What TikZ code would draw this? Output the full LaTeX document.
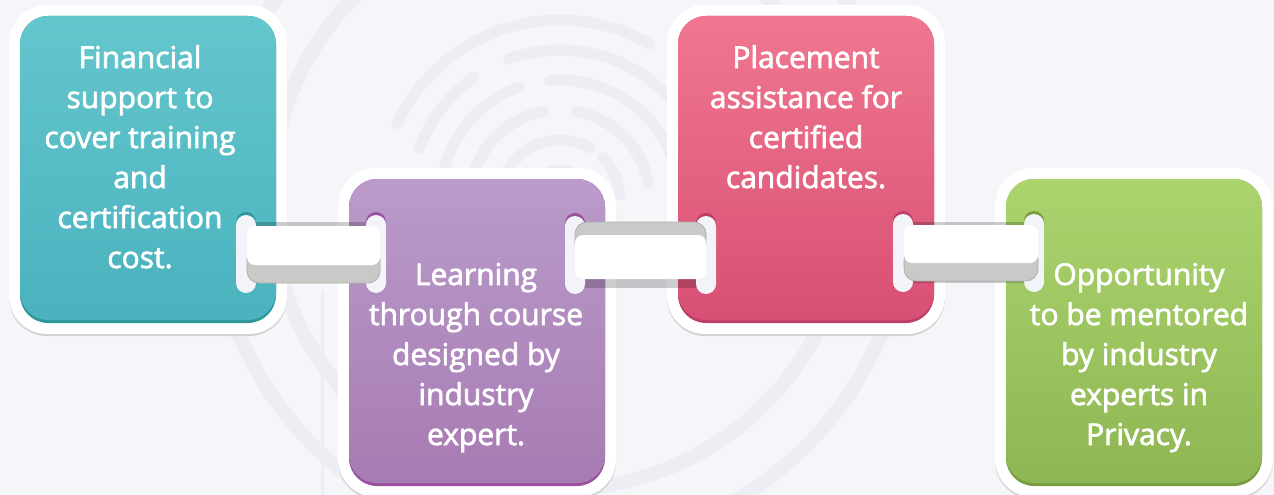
\documentclass[tikz,border=0pt]{standalone}
\usepackage{fontspec}
\newfontfamily\lblfont{Open Sans}[FakeBold=2.2]
\definecolor{bgc}{HTML}{F5F6FA}
\definecolor{wmc}{HTML}{ECEEF4}
\definecolor{shadowc}{HTML}{D2D2D2}
\definecolor{slotc}{HTML}{F3F4F9}
\definecolor{curlc}{HTML}{C9C9C7}
\definecolor{curledge}{HTML}{AFAFAD}
\definecolor{tealT}{HTML}{64C6CD}
\definecolor{tealB}{HTML}{4AB2BE}
\definecolor{tealL}{HTML}{2F9799}
\definecolor{purT}{HTML}{BA9BCA}
\definecolor{purB}{HTML}{A77BB3}
\definecolor{purL}{HTML}{9B509F}
\definecolor{pinkT}{HTML}{F0778F}
\definecolor{pinkB}{HTML}{D84F75}
\definecolor{pinkL}{HTML}{BD3F66}
\definecolor{grnT}{HTML}{ABD36E}
\definecolor{grnB}{HTML}{8EB753}
\definecolor{grnL}{HTML}{789C3F}
\tikzset{
  lbl/.style={text=white, font=\lblfont\fontsize{30}{40}\selectfont, align=center, anchor=base, inner sep=0pt},
  wm/.style={draw=wmc, line width=14pt, line cap=round},
  strip/.style={fill=black, fill opacity=0.2},
  slot/.style={fill=slotc, rounded corners=10pt},
  curl/.style={fill=curlc, draw=curledge, line width=0.8pt, rounded corners=12pt},
  ribbon/.style={fill=white, rounded corners=8pt},
}
\newcommand\drawcard[5]{%
  \fill[shadowc, rounded corners=38pt] (#1-11,#2-9) rectangle (#1+267,#2+320);
  \fill[white, rounded corners=38pt] (#1-11,#2-11) rectangle (#1+267,#2+318);
  \fill[#5, rounded corners=28pt] (#1,#2) rectangle (#1+256,#2+307);
  \shade[top color=#3, bottom color=#4, rounded corners=28pt] (#1,#2) rectangle (#1+256,#2+304);
}
\newcommand\drawslot[3]{% x, y top, dark colour
  \fill[#3, rounded corners=10pt] (#1,#2-3) rectangle (#1+20,#2+75);
  \fill[slot] (#1,#2) rectangle (#1+20,#2+78);
}
\begin{document}
\begin{tikzpicture}[x=1pt,y=-1pt]
\fill[bgc] (0,0) rectangle (1274,495);
\useasboundingbox (0,0) rectangle (1274,495);
% watermark
\draw[wm] (560,200) circle[radius=289];
\draw[wm] (560,200) circle[radius=348];
\draw[draw=wmc, line width=3pt] (322,290) -- (322,495);
\foreach \r/\a/\b in {30/200/340, 60/190/300, 60/315/355, 90/185/260, 90/280/350, 120/195/250, 120/265/340, 150/200/235, 150/250/330, 180/205/300}{
  \draw[wm, line width=11pt] (560,200) ++(\a:\r) arc[start angle=\a, end angle=\b, radius=\r];
}
% cards
\drawcard{20}{16}{tealT}{tealB}{tealL}
\drawcard{349}{179}{purT}{purB}{purL}
\drawcard{678}{16}{pinkT}{pinkB}{pinkL}
\drawcard{1006}{179}{grnT}{grnB}{grnL}
% link 1
\fill[strip] (246,222) rectangle (376,283);
\drawslot{236}{215}{tealL}
\drawslot{366}{215}{purL}
\draw[curl] (247,248) rectangle (380,283);
\fill[ribbon] (247,226) rectangle (380,265);
% link 2
\fill[strip] (574,222) rectangle (705,288);
\drawslot{565}{216}{purL}
\drawslot{696}{216}{pinkL}
\draw[curl] (575,222) rectangle (706,256);
\fill[ribbon] (575,235) rectangle (706,279);
% link 3
\fill[strip] (903,222) rectangle (1034,283);
\drawslot{893}{214}{pinkL}
\drawslot{1024}{214}{grnL}
\draw[curl] (904,248) rectangle (1038,281);
\fill[ribbon] (904,225) rectangle (1038,263);
% texts (anchor = baseline of last line)
\node[lbl] (t1) at (140,268) {Financial\\support to\\cover training\\and\\certification\\cost.};
\node[lbl] (t2) at (476,445) {Learning\\through course\\designed by\\industry\\expert.};
\node[lbl] (t3) at (806,188) {Placement\\assistance for\\certified\\candidates.};
\node[lbl] (t4) at (1139,445) {Opportunity\\to be mentored\\by industry\\experts in\\Privacy.};
\end{tikzpicture}
\end{document}
